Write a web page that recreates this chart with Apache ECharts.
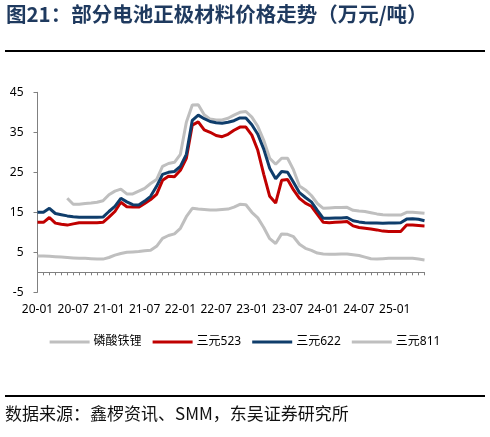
<!DOCTYPE html>
<html><head><meta charset="utf-8">
<script src="https://cdn.jsdelivr.net/npm/echarts@6/dist/echarts.min.js"></script>
<style>html,body{margin:0;padding:0;background:#fff}#c{width:490px;height:437px}</style>
</head><body><div id="c"></div>
<script>
// months 2020-01 .. 2025-06
const months = [];
for (let y = 20; y <= 25; y++) for (let m = 1; m <= 12; m++) { if (y === 25 && m > 6) break; months.push(y + '-' + String(m).padStart(2, '0')); }

const seriesNames = ['磷酸铁锂', '三元523', '三元622', '三元811'];

const lfp = [4.1,4.1,4.0,3.9,3.8,3.7,3.6,3.5,3.5,3.4,3.3,3.3,3.7,4.3,4.7,5.0,5.1,5.2,5.4,5.5,6.5,8.5,9.2,9.6,11.0,13.9,16.0,15.8,15.7,15.6,15.6,15.7,15.8,16.3,17.0,16.9,15.0,13.6,11.2,8.4,7.2,9.6,9.5,8.9,7.0,6.0,5.5,4.8,4.6,4.5,4.5,4.6,4.6,4.4,4.2,3.8,3.4,3.3,3.4,3.5,3.5,3.5,3.5,3.5,3.3,3.1];

const ncm523 = [12.5,12.5,13.7,12.3,12.0,11.8,12.1,12.4,12.4,12.4,12.4,12.5,13.8,15.2,17.5,16.4,16.3,16.3,17.2,18.2,19.5,23.0,24.0,23.9,25.5,28.5,36.8,37.6,35.6,35.0,34.2,33.9,34.5,35.5,36.3,36.3,34.3,30.5,24.5,19.0,17.3,23.0,23.2,20.6,18.5,17.3,16.5,14.5,12.5,12.4,12.5,12.6,12.7,11.6,11.2,11.0,10.8,10.6,10.3,10.2,10.2,10.2,11.8,11.8,11.7,11.6];

const ncm622 = [15.0,15.0,16.0,14.7,14.4,14.1,13.9,13.75,13.75,13.75,13.75,13.8,15.2,16.5,18.5,17.6,16.9,16.8,17.8,19.0,21.5,24.5,25.0,25.2,26.5,29.5,38.0,39.3,38.4,37.7,37.4,37.25,37.5,37.9,38.6,38.6,36.9,34.5,30.8,26.0,23.4,25.2,25.0,22.5,19.9,18.7,17.6,15.5,13.5,13.5,13.6,13.6,13.7,12.9,12.6,12.4,12.3,12.3,12.25,12.3,12.3,12.4,13.3,13.4,13.25,12.9];

const ncm811 = [null,null,null,null,null,18.5,17.0,17.0,17.2,17.3,17.5,17.9,19.4,20.3,20.8,19.6,19.6,20.3,21.0,22.2,23.2,26.5,27.2,27.5,29.5,37.5,41.8,41.9,39.4,38.3,38.1,38.1,38.5,39.3,40.0,40.2,38.8,36.5,33.0,28.5,27.0,28.5,28.5,25.6,21.6,20.6,19.2,17.2,16.0,16.1,16.2,16.2,16.25,15.5,15.3,15.2,14.9,14.6,14.4,14.3,14.3,14.3,15.0,15.0,14.9,14.75];

const yTicks = { min: -5, max: 45, interval: 10 };
const colors = ['#BFBFBF', '#C00000', '#0F3D6B', '#BFBFBF'];
const values = [lfp, ncm523, ncm622, ncm811];

const chart = echarts.init(document.getElementById('c'), null, { renderer: 'canvas' });
const font = '"Noto Sans", "Noto Sans CJK SC", sans-serif';
chart.setOption({
  animation: false,
  textStyle: { fontFamily: font },
  graphic: [
    { type: 'text', left: 6, top: 4, style: { text: '图21：部分电池正极材料价格走势（万元/吨）', fill: '#1F3A5F', font: 'bold 20.5px "Noto Sans CJK SC", sans-serif' } },
    { type: 'rect', shape: { x: 5, y: 50, width: 480, height: 2 }, style: { fill: '#000' } },
    { type: 'rect', shape: { x: 5, y: 395, width: 480, height: 2 }, style: { fill: '#000' } },
    { type: 'text', left: 5, top: 405, style: { text: '数据来源：鑫椤资讯、SMM，东吴证券研究所', fill: '#111', font: '17px "Noto Sans CJK SC", sans-serif' } }
  ],
  grid: { left: 37.5, right: 65.5, top: 92.3, bottom: 144.7, containLabel: false },
  legend: {
    top: 331, left: 'center', itemWidth: 40, itemHeight: 3, itemGap: 11, icon: 'rect',
    textStyle: { fontSize: 12, color: '#000', padding: [0, 0, 0, -1] },
    data: seriesNames
  },
  xAxis: [
    {
      type: 'category', data: months, boundaryGap: false,
      axisLine: { show: false, onZero: false }, axisTick: { show: false },
      axisLabel: { interval: 5, fontSize: 12, color: '#000', margin: 11 }
    },
    {
      type: 'category', data: months, boundaryGap: false, position: 'bottom',
      axisLine: { show: true, onZero: true, lineStyle: { color: '#808080', width: 1 } },
      axisTick: { show: true, interval: 0, length: 3, lineStyle: { color: '#808080' } },
      axisLabel: { show: false }
    }
  ],
  yAxis: {
    type: 'value', min: yTicks.min, max: yTicks.max, interval: yTicks.interval,
    axisLine: { show: true, lineStyle: { color: '#808080', width: 1 } },
    axisTick: { show: true, length: 4, lineStyle: { color: '#808080' } },
    splitLine: { show: false },
    axisLabel: { fontSize: 12, color: '#000', margin: 14 }
  },
  series: seriesNames.map((n, i) => ({
    name: n, type: 'line', data: values[i], xAxisIndex: 0,
    showSymbol: false, symbol: 'none', connectNulls: false,
    lineStyle: { color: colors[i], width: 3 }, itemStyle: { color: colors[i] },
    z: i === 0 || i === 3 ? 1 : 2
  }))
});
</script></body></html>
